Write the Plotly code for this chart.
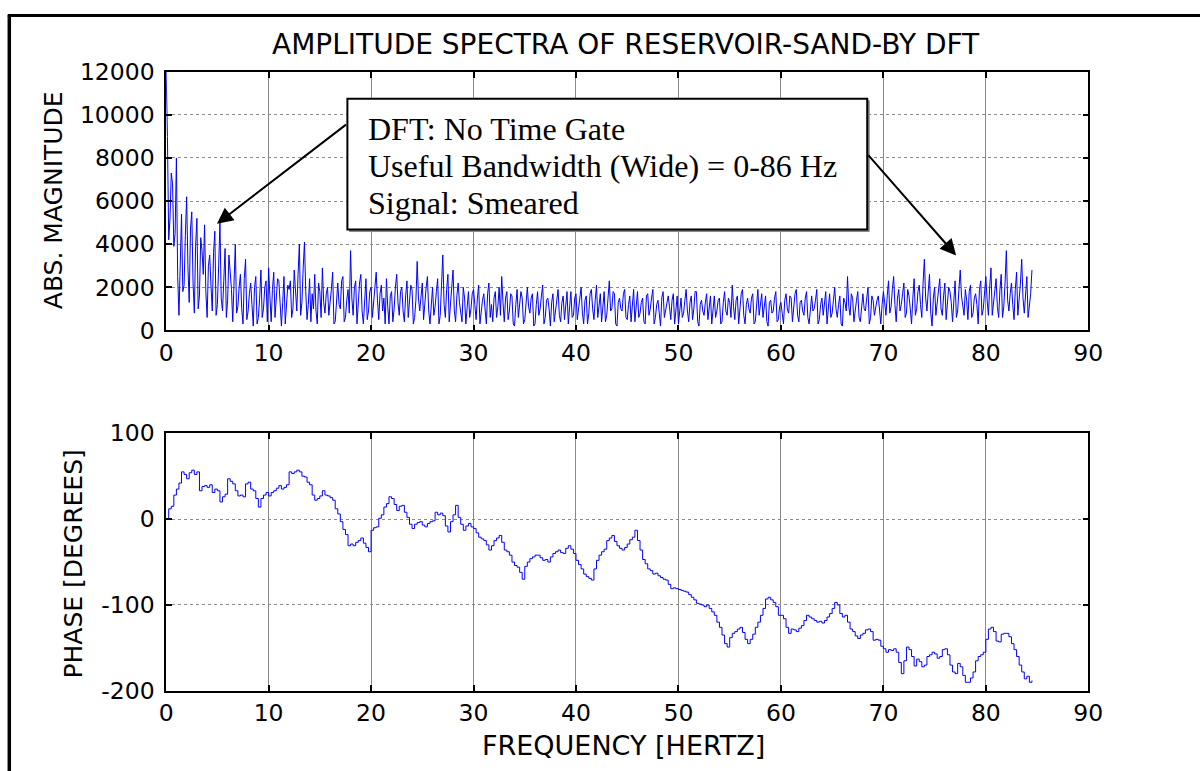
import plotly.graph_objects as go

# The photographed page maps page pixels to picture pixels as
# picture = A + S * page (measured on earlier renders); every position below
# is given in picture pixels of the 1200x771 reference and converted back.
BODY_MARGIN = 8
SX, AX = 0.986, -2.7
SY, AY = 0.966, 4.4
W, H = 1216, 790

FREQ_STEP = 0.125  # Hz between spectral samples

# |DFT| magnitude at 0, 0.25, 0.5 ... Hz
amp_0_10 = [12000, 4200, 7300, 3900, 8000, 700, 5400, 2100, 6200, 1300,
            5500, 800, 5200, 1600, 3700, 4900, 600, 3500, 900, 4600,
            1200, 5000, 900, 3800, 1400, 2800, 400, 4000, 1100, 2600,
            300, 3300, 900, 2200, 200, 2500, 600, 2800, 1000, 2300]
amp_10_20 = [2900, 400, 2700, 1500, 2300, 200, 2500, 1100, 1900, 600,
             2800, 900, 4000, 1300, 4100, 500, 2400, 1700, 2600, 300,
             1800, 2900, 800, 2000, 1200, 2700, 400, 2200, 1000, 2500,
             600, 1900, 3700, 700, 2300, 1300, 2600, 300, 2400, 900]
amp_20_30 = [2000, 1200, 2700, 500, 2100, 1500, 2400, 300, 1800, 1000,
             2600, 700, 2000, 400, 2300, 1300, 1900, 600, 3200, 900,
             2200, 1400, 2500, 300, 2000, 1100, 2400, 700, 3500, 600,
             2600, 1200, 2800, 400, 2200, 900, 2000, 300, 1800, 1000]
amp_30_40 = [1900, 500, 2100, 900, 1700, 300, 2200, 1200, 1500, 600,
             2000, 2500, 400, 1800, 900, 1600, 200, 1900, 1100, 1500,
             500, 2000, 800, 1700, 300, 1800, 1000, 2100, 600, 1500,
             200, 1700, 900, 1900, 400, 1600, 1100, 300, 1800, 700]
amp_40_50 = [1700, 1000, 2000, 300, 1600, 800, 1900, 500, 2100, 1200,
             400, 1800, 700, 2300, 1000, 1700, 200, 1500, 900, 1900,
             500, 1600, 1200, 400, 1800, 800, 1500, 300, 1700, 1000,
             1900, 600, 1400, 200, 1800, 900, 1600, 500, 1700, 1100]
amp_50_60 = [300, 1500, 800, 1900, 400, 1600, 1000, 1800, 200, 1400,
             700, 1700, 1100, 300, 1600, 900, 1500, 400, 1800, 700,
             1300, 2100, 500, 1600, 1000, 1900, 300, 1500, 800, 1700,
             400, 1900, 1100, 600, 1600, 200, 1400, 900, 1800, 500]
amp_60_70 = [1300, 300, 1700, 800, 1500, 1100, 1900, 400, 1400, 700,
             1800, 300, 1600, 1000, 1900, 500, 1500, 1200, 300, 1700,
             800, 2000, 600, 1600, 200, 1300, 2500, 700, 1500, 1000,
             1800, 400, 1700, 900, 2000, 600, 1400, 1100, 1600, 300]
amp_70_85 = [1800, 700, 2300, 1100, 2500, 400, 1900, 1200, 2200, 800,
             1600, 300, 2400, 1000, 2100, 600, 3300, 900, 2600, 200,
             2000, 1300, 2400, 700, 2200, 1100, 1800, 400, 2300, 900,
             2800, 1200, 1900, 500, 2100, 800, 1700, 300, 2300, 1000,
             2500, 700, 2900, 1300, 2400, 600, 2600, 1100, 3700, 900,
             2200, 500, 2700, 1400, 3300, 800, 2500, 1200, 2800]

# |DFT| magnitude at the in-between bins 0.125, 0.375, 0.625 ... Hz
half_0_10 = [9000, 5200, 6800, 4500, 2500, 3900, 1800, 4400, 3000, 4700,
             2200, 3900, 1000, 4300, 2600, 1800, 3000, 2100, 3600, 700,
             3000, 1500, 2300, 600, 3500, 1900, 2300, 800, 2000, 1000,
             2400, 500, 1700, 1200, 2000, 300, 1500, 600, 2000, 400]
half_10_20 = [1600, 1900, 600, 2400, 900, 1300, 300, 2100, 2300, 1000,
              1500, 2600, 700, 2900, 1800, 1200, 400, 1000, 900, 2200,
              600, 1300, 1700, 700, 1900, 300, 1500, 1200, 2300, 400,
              1400, 800, 1500, 2000, 300, 2200, 900, 1700, 500, 1800]
half_20_30 = [600, 1900, 1400, 1700, 900, 300, 1100, 1600, 400, 2000,
              1300, 1800, 900, 1600, 600, 2100, 300, 1400, 1500, 1700,
              500, 2000, 900, 1500, 700, 1800, 300, 2100, 1200, 1900,
              400, 1900, 900, 1600, 1300, 400, 1500, 1100, 600, 1700]
half_30_40 = [1200, 1500, 300, 1400, 800, 1700, 600, 400, 1800, 1100,
              700, 1300, 1500, 500, 1700, 300, 1200, 600, 1800, 300,
              1300, 1100, 1500, 200, 1200, 700, 1600, 300, 1400, 1000,
              1300, 400, 1600, 700, 1300, 500, 1800, 1300, 600, 1500]
half_40_50 = [500, 1500, 800, 1400, 300, 1700, 1000, 1400, 600, 1700,
              1300, 400, 1500, 900, 1800, 300, 1300, 1000, 1700, 600,
              1200, 400, 1900, 1000, 600, 1300, 400, 1600, 700, 1500,
              300, 1200, 800, 1500, 600, 1300, 1100, 1400, 300, 1600]
half_50_60 = [1100, 600, 1400, 900, 1300, 500, 1800, 400, 1200, 900,
              1300, 500, 1600, 1000, 600, 1400, 300, 1300, 900, 1500,
              600, 1100, 1400, 300, 1700, 700, 1200, 1000, 1500, 300,
              1300, 700, 1700, 1200, 400, 1300, 800, 1500, 400, 1100]
half_60_70 = [800, 1400, 1000, 1600, 400, 1700, 700, 1300, 900, 1500,
              600, 1200, 900, 1400, 300, 1200, 700, 1800, 1000, 600,
              1400, 1000, 1200, 300, 1500, 900, 1100, 1700, 400, 1400,
              600, 1300, 1000, 1500, 300, 1600, 700, 1400, 900, 1200]
half_70_85 = [1300, 1600, 800, 1900, 1200, 1500, 900, 1700, 600, 1900,
              1000, 1500, 700, 1800, 1200, 2200, 1500, 1800, 800, 1500,
              700, 1900, 1000, 1600, 500, 2000, 1300, 1500, 600, 1900,
              1600, 700, 1400, 1800, 600, 1500, 1200, 1900, 700, 1700,
              1400, 2000, 700, 1800, 1100, 1900, 600, 2200, 1400, 1700,
              1200, 1900, 700, 2200, 1500, 1800, 600, 1700]

amp_main = (amp_0_10 + amp_10_20 + amp_20_30 + amp_30_40 + amp_40_50
            + amp_50_60 + amp_60_70 + amp_70_85)
amp_half = (half_0_10 + half_10_20 + half_20_30 + half_30_40 + half_40_50
            + half_50_60 + half_60_70 + half_70_85)
amplitude = []
for i, v in enumerate(amp_main):
    amplitude.append(v)
    if i < len(amp_half):
        amplitude.append(amp_half[i])

# phase in degrees at 0, 0.25, 0.5 ... Hz
ph_0_10 = [0, 12, 15, 28, 35, 42, 55, 52, 47, 54,
           57, 52, 55, 33, 38, 39, 37, 40, 31, 35,
           33, 20, 26, 29, 47, 44, 41, 33, 27, 28,
           26, 41, 43, 35, 33, 24, 14, 24, 28, 31]
ph_10_20 = [27, 31, 33, 36, 39, 35, 37, 40, 55, 53,
            55, 57, 55, 50, 49, 43, 40, 28, 22, 24,
            27, 33, 28, 27, 25, 22, 12, 6, -3, -12,
            -18, -31, -29, -31, -27, -25, -22, -28, -33, -38]
ph_20_30 = [-13, -10, -9, 1, 5, 14, 18, 26, 24, 17,
            10, 15, 16, 8, 2, -6, -11, -6, -4, -3,
            -7, -9, -5, -3, -2, 8, 5, 7, 4, -8,
            -15, -3, 5, 16, 2, -6, -13, -8, -5, -9]
ph_30_40 = [-11, -16, -21, -23, -25, -30, -36, -31, -25, -22,
            -19, -27, -36, -38, -42, -50, -54, -56, -62, -70,
            -55, -50, -46, -44, -42, -42, -45, -48, -47, -50,
            -44, -40, -38, -36, -39, -40, -34, -31, -35, -40]
ph_40_50 = [-48, -53, -58, -64, -67, -69, -71, -58, -48, -42,
            -38, -35, -25, -22, -19, -26, -31, -34, -36, -33,
            -29, -24, -21, -13, -25, -36, -47, -52, -58, -60,
            -64, -63, -66, -68, -70, -71, -76, -81, -80, -81]
ph_50_60 = [-82, -83, -84, -85, -88, -91, -94, -98, -99, -100,
            -102, -100, -104, -108, -112, -120, -126, -135, -145, -149,
            -138, -133, -131, -128, -126, -132, -140, -145, -140, -134,
            -126, -120, -112, -104, -93, -91, -94, -97, -102, -112]
ph_60_70 = [-112, -116, -126, -133, -128, -129, -131, -127, -124, -118,
            -112, -114, -116, -118, -120, -119, -121, -118, -114, -110,
            -104, -97, -100, -110, -114, -112, -120, -128, -131, -136,
            -139, -135, -133, -129, -128, -131, -141, -140, -141, -148]
ph_70_85 = [-151, -155, -152, -153, -151, -155, -167, -180, -165, -149,
            -152, -160, -171, -163, -166, -172, -170, -160, -158, -155,
            -157, -162, -160, -152, -151, -158, -170, -178, -180, -168,
            -172, -182, -190, -190, -185, -178, -165, -160, -158, -155,
            -140, -128, -126, -131, -142, -143, -134, -133, -133, -137,
            -145, -152, -160, -170, -178, -186, -183, -190, -188]
phase = (ph_0_10 + ph_10_20 + ph_20_30 + ph_30_40 + ph_40_50
         + ph_50_60 + ph_60_70 + ph_70_85)

freq_amp = [i * FREQ_STEP for i in range(len(amplitude))]
freq_ph = [i * 2 * FREQ_STEP for i in range(len(phase))]

x_ticks = [0, 10, 20, 30, 40, 50, 60, 70, 80, 90]
x_tick_text = ["0", "10", "20", "30", "40", "50", "60", "70", "80", "90"]
amp_ticks = [0, 2000, 4000, 6000, 8000, 10000, 12000]
amp_tick_text = ["0", "2000", "4000", "6000", "8000", "10000", "12000"]
ph_ticks = [-200, -100, 0, 100]
ph_tick_text = ["-200", "-100", "0", "100"]

TITLE = "AMPLITUDE SPECTRA OF RESERVOIR-SAND-BY DFT"
AMP_LABEL = "ABS. MAGNITUDE"
PH_LABEL = "PHASE [DEGREES]"
X_LABEL = "FREQUENCY [HERTZ]"
NOTE_LINES = ["DFT: No Time Gate",
              "Useful Bandwidth (Wide) = 0-86 Hz",
              "Signal: Smeared"]

# ---------------------------------------------------------------- layout
def paper_x(d):
    page = (d - AX) / SX
    return (page - BODY_MARGIN) / W

def paper_y(d):
    page = (d - AY) / SY
    return 1 - (page - BODY_MARGIN) / H

L, R = 165, 1091
TOP1, BOT1 = 70, 329
TOP2, BOT2 = 432, 690

SANS = "DejaVu Sans"
SERIF = "Liberation Serif"
BLUE = "#0000ff"
TICK_SIZE = 23.5
YLABEL_SIZE = 25
XLABEL_SIZE = 27

fig = go.Figure()
fig.add_trace(go.Scatter(x=freq_amp, y=amplitude, mode="lines",
                         line=dict(color=BLUE, width=1),
                         xaxis="x", yaxis="y", showlegend=False))
fig.add_trace(go.Scatter(x=freq_ph, y=phase, mode="lines",
                         line=dict(color=BLUE, width=1, shape="hv"),
                         xaxis="x2", yaxis="y2", showlegend=False))

axis_common = dict(showline=True, linecolor="black", linewidth=1.5,
                   mirror="ticks", ticks="inside", ticklen=6,
                   tickcolor="black", tickwidth=1.5,
                   showgrid=True, zeroline=False,
                   tickfont=dict(family=SANS, size=TICK_SIZE, color="black"))

fig.update_layout(
    width=W, height=H,
    margin=dict(l=0, r=0, t=0, b=0),
    paper_bgcolor="white", plot_bgcolor="white",
    xaxis=dict(domain=[paper_x(L), paper_x(R)], range=[0, 90],
               tickvals=x_ticks, ticktext=x_tick_text, anchor="y",
               gridcolor="#8a8a8a", gridwidth=1, griddash="solid",
               ticklabelstandoff=1, **axis_common),
    yaxis=dict(domain=[paper_y(BOT1), paper_y(TOP1)], range=[0, 12000],
               tickvals=amp_ticks, ticktext=amp_tick_text, anchor="x",
               gridcolor="#8a8a8a", griddash="dot",
               ticklabelstandoff=5, **axis_common),
    xaxis2=dict(domain=[paper_x(L), paper_x(R)], range=[0, 90],
                tickvals=x_ticks, ticktext=x_tick_text, anchor="y2",
                gridcolor="#8a8a8a", griddash="solid",
                ticklabelstandoff=0, **axis_common),
    yaxis2=dict(domain=[paper_y(BOT2), paper_y(TOP2)], range=[-200, 100],
                tickvals=ph_ticks, ticktext=ph_tick_text, anchor="x2",
                gridcolor="#8a8a8a", griddash="dot",
                ticklabelstandoff=5, **axis_common),
)

# title and axis labels as fixed-position text
fig.add_annotation(text=TITLE, xref="paper", yref="paper",
                   x=paper_x(627), y=paper_y(43), showarrow=False,
                   xanchor="center", yanchor="middle",
                   font=dict(family=SANS, size=28, color="black"))
fig.add_annotation(text=AMP_LABEL, xref="paper", yref="paper",
                   x=paper_x(52), y=paper_y(199), showarrow=False,
                   textangle=-90, xanchor="center", yanchor="middle",
                   font=dict(family=SANS, size=YLABEL_SIZE, color="black"))
fig.add_annotation(text=PH_LABEL, xref="paper", yref="paper",
                   x=paper_x(72), y=paper_y(563), showarrow=False,
                   textangle=-90, xanchor="center", yanchor="middle",
                   font=dict(family=SANS, size=YLABEL_SIZE, color="black"))
fig.add_annotation(text=X_LABEL, xref="paper", yref="paper",
                   x=paper_x(624), y=paper_y(745), showarrow=False,
                   xanchor="center", yanchor="middle",
                   font=dict(family=SANS, size=XLABEL_SIZE, color="black"))

# outer frame (left and top edges)
fig.add_shape(type="line", xref="paper", yref="paper",
              x0=paper_x(7.5), x1=paper_x(7.5), y0=0, y1=1 - 1.0 / H,
              line=dict(color="black", width=3.5))
fig.add_shape(type="line", xref="paper", yref="paper",
              x0=paper_x(6), x1=1, y0=1 - 1.5 / H, y1=1 - 1.5 / H,
              line=dict(color="black", width=3))

# arrows (tails at the note box, heads on the spectrum)
fig.add_annotation(x=4.96, y=4950, ax=17.7, ay=9600, xref="x", yref="y",
                   axref="x", ayref="y", showarrow=True, text="",
                   arrowhead=2, arrowsize=1.6, arrowwidth=2,
                   arrowcolor="black")
fig.add_annotation(x=77.1, y=3480, ax=68.4, ay=8200, xref="x", yref="y",
                   axref="x", ayref="y", showarrow=True, text="",
                   arrowhead=2, arrowsize=1.6, arrowwidth=2,
                   arrowcolor="black")

# note box
fig.add_shape(type="rect", xref="paper", yref="paper",
              x0=paper_x(349), x1=paper_x(871), y0=paper_y(230),
              y1=paper_y(99),
              line=dict(color="#888888", width=1), fillcolor="#888888")
fig.add_shape(type="rect", xref="paper", yref="paper",
              x0=paper_x(347), x1=paper_x(869), y0=paper_y(228),
              y1=paper_y(97),
              line=dict(color="black", width=2), fillcolor="white")
for i, line in enumerate(NOTE_LINES):
    fig.add_annotation(text=line, xref="paper", yref="paper",
                       x=paper_x(366), y=paper_y(127 + 37 * i),
                       showarrow=False, xanchor="left", yanchor="middle",
                       font=dict(family=SERIF, size=32, color="black"))

fig.write_html("out.html")
